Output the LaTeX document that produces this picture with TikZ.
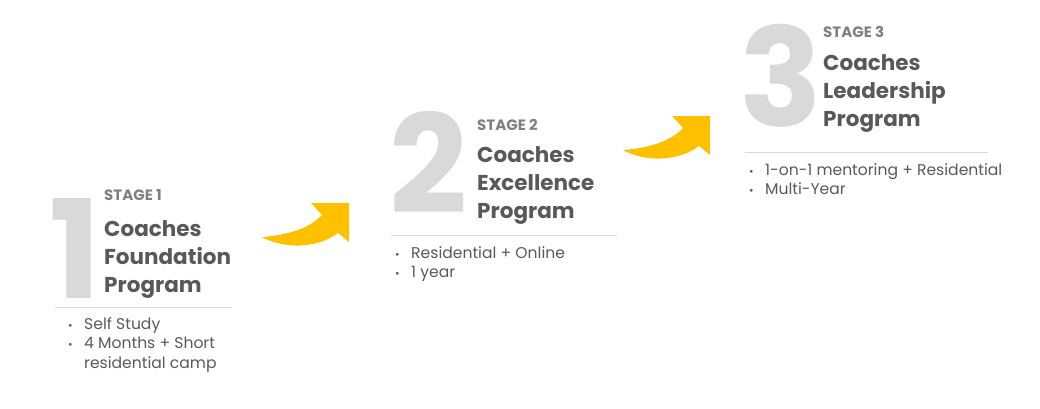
\documentclass[tikz,border=0pt]{standalone}
\usepackage{fontspec}
\setmainfont{Poppins}
\usetikzlibrary{positioning}

\definecolor{digitgray}{HTML}{D9D9D9}
\definecolor{labelgray}{HTML}{808080}
\definecolor{titlegray}{HTML}{595959}
\definecolor{itemgray}{HTML}{595959}
\definecolor{rulegray}{HTML}{D9D9D9}
\definecolor{arrowgold}{HTML}{FFC000}

\newcommand{\stagedot}{\makebox[16pt][l]{\fontsize{11}{11}\selectfont •}}

\tikzset{
    digit/.style={
        anchor=base west, inner sep=0pt, text=digitgray,
        font=\fontsize{137}{137}\selectfont\bfseries
    },
    stagelabel/.style={
        anchor=base west, inner sep=0pt, text=labelgray,
        font=\fontsize{15}{15}\selectfont\bfseries
    },
    title/.style={
        anchor=base west, inner sep=0pt, text=titlegray,
        font=\fontsize{21.5}{21.5}\selectfont\bfseries
    },
    itemlist/.style={
        anchor=base west, inner sep=0pt, text=itemgray,
        font=\fontsize{15.6}{19.5}\selectfont
    },
    rule/.style={draw=rulegray, line width=1pt},
    stagearrow/.pic={
        \fill[arrowgold] (-87,34)
            .. controls (-62,32) and (-40,26) .. (-27,12)
            -- (-38,0) -- (0,0) -- (0,39) -- (-11,30)
            .. controls (-32,46) and (-66,46) .. (-87,34) -- cycle;
    }
}

\begin{document}
\begin{tikzpicture}[x=1pt, y=-1pt]

    \useasboundingbox (0,0) rectangle (1040,409);

    % Etapa 1
    \node[digit]      (s1num)   at (49,298)    {1};
    \node[stagelabel] (s1label) at (104,200)   {STAGE 1};
    \node[title]      (s1t1)    at (104,236.5) {Coaches};
    \node[title]      (s1t2)    at (104,264.5) {Foundation};
    \node[title]      (s1t3)    at (104,292.5) {Program};

    \coordinate (s1l) at (55,307);
    \coordinate (s1r) at (232,307);
    \draw[rule] (s1l) -- (s1r);

    \node[itemlist] (s1items) at (68,329) {%
        \begin{tabular}[t]{@{}l@{}l@{}}
            \stagedot & Self Study\\
            \stagedot & 4 Months + Short\\
                      & residential camp
        \end{tabular}};

    % Etapa 2
    \node[digit]      (s2num)   at (389,213)   {2};
    \node[stagelabel] (s2label) at (477,130)   {STAGE 2};
    \node[title]      (s2t1)    at (477,162.5) {Coaches};
    \node[title]      (s2t2)    at (477,190.5) {Excellence};
    \node[title]      (s2t3)    at (477,218.5) {Program};

    \coordinate (s2l) at (391,235.5);
    \coordinate (s2r) at (617,235.5);
    \draw[rule] (s2l) -- (s2r);

    \node[itemlist] (s2items) at (395,258) {%
        \begin{tabular}[t]{@{}l@{}l@{}}
            \stagedot & Residential + Online\\
            \stagedot & 1 year
        \end{tabular}};

    % Etapa 3
    \node[digit]      (s3num)   at (739,126)   {3};
    \node[stagelabel] (s3label) at (823,38)    {STAGE 3};
    \node[title]      (s3t1)    at (823,70.5)  {Coaches};
    \node[title]      (s3t2)    at (823,98.5)  {Leadership};
    \node[title]      (s3t3)    at (823,126.5) {Program};

    \coordinate (s3l) at (745,152);
    \coordinate (s3r) at (988,152);
    \draw[rule] (s3l) -- (s3r);

    \node[itemlist] (s3items) at (749,175) {%
        \begin{tabular}[t]{@{}l@{}l@{}}
            \stagedot & 1-on-1 mentoring + Residential\\
            \stagedot & Multi-Year
        \end{tabular}};

    % Flechas
    \pic at (349,203) {stagearrow};
    \pic at (710,116) {stagearrow};

\end{tikzpicture}
\end{document}
